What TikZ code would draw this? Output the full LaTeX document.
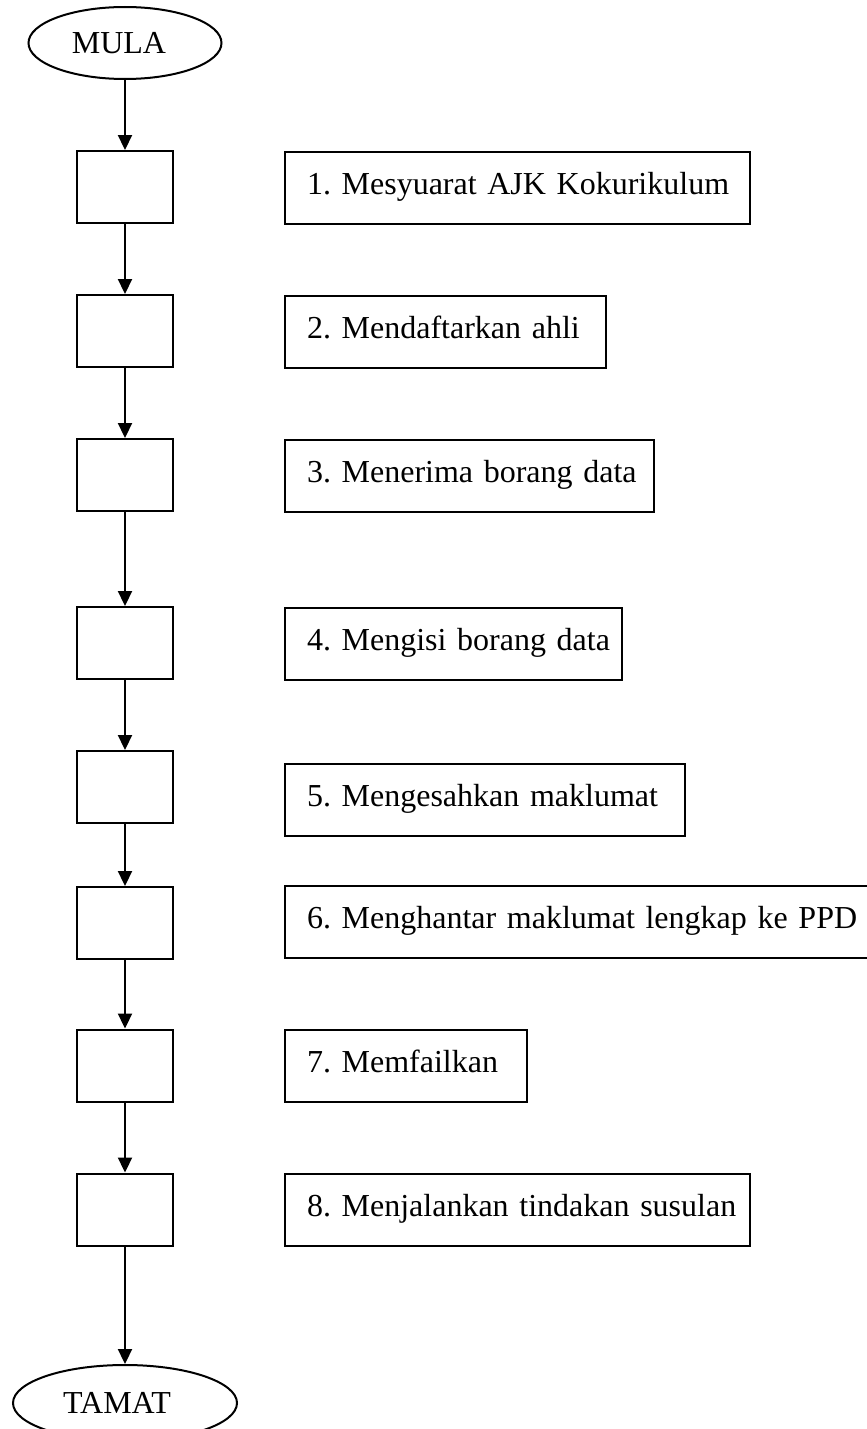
\documentclass[tikz,border=0pt]{standalone}
\usepackage{fontspec}
\setmainfont[WordSpace=0.75]{Liberation Serif}
\usetikzlibrary{shapes.geometric,arrows.meta}
\frenchspacing
\tikzset{
  lbox/.style={draw=black, line width=2pt, rectangle, minimum width=96pt, minimum height=72pt, inner sep=0pt},
  rbox/.style={draw=black, line width=2pt, rectangle, anchor=north west, inner xsep=22pt, inner ysep=0pt,
               text height=42pt, text depth=30pt, align=left, font=\fontsize{32}{36}\selectfont},
  term/.style={draw=black, line width=2pt, ellipse, inner sep=0pt, font=\fontsize{32}{36}\selectfont},
  flow/.style={line width=2.2pt, -{Triangle[length=15pt,width=14pt]}}
}
\begin{document}
\begin{tikzpicture}[x=1pt,y=-1pt]
\useasboundingbox (0,0) rectangle (867,1429);
\clip (0,0) rectangle (867,1429);
% terminals
\node[term, minimum width=193pt, minimum height=72pt] (mula) at (125,43) {\hspace*{-12pt}MULA};
\node[term, minimum width=224pt, minimum height=76pt] (tamat) at (125,1403) {\hspace*{-16pt}TAMAT};
% left column boxes
\node[lbox] (b1) at (125,187) {};
\node[lbox] (b2) at (125,331) {};
\node[lbox] (b3) at (125,475) {};
\node[lbox] (b4) at (125,643) {};
\node[lbox] (b5) at (125,787) {};
\node[lbox] (b6) at (125,923) {};
\node[lbox] (b7) at (125,1065.5) {};
\node[lbox] (b8) at (125,1209.5) {};
% right column descriptions
\node[rbox, text width=421pt] (r1) at (284,151) {\mbox{1. Mesyuarat AJK Kokurikulum}};
\node[rbox, text width=277pt] (r2) at (284,295) {\mbox{2. Mendaftarkan ahli}};
\node[rbox, text width=325pt] (r3) at (284,439) {\mbox{3. Menerima borang data}};
\node[rbox, text width=293pt] (r4) at (284,607) {\mbox{4. Mengisi borang data}};
\node[rbox, text width=356pt] (r5) at (284,763) {\mbox{5. Mengesahkan maklumat}};
\node[rbox, text width=560pt] (r6) at (284,885) {\mbox{6. Menghantar maklumat lengkap ke PPD}};
\node[rbox, text width=198pt] (r7) at (284,1029) {\mbox{7. Memfailkan}};
\node[rbox, text width=421pt] (r8) at (284,1173) {\mbox{8. Menjalankan tindakan susulan}};
% connectors
\draw[flow] (mula) -- (b1);
\draw[flow] (b1) -- (b2);
\draw[flow] (b2) -- (b3);
\draw[flow] (b3) -- (b4);
\draw[flow] (b4) -- (b5);
\draw[flow] (b5) -- (b6);
\draw[flow] (b6) -- (b7);
\draw[flow] (b7) -- (b8);
\draw[flow] (b8) -- (tamat);
\end{tikzpicture}
\end{document}
